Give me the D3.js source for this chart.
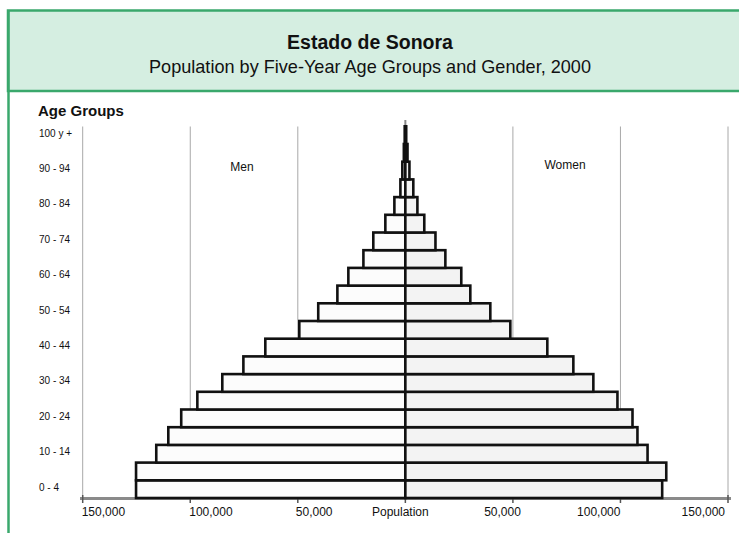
<!DOCTYPE html>
<html><head><meta charset="utf-8">
<script src="https://cdn.jsdelivr.net/npm/d3@7"></script>
<style>html,body{margin:0;padding:0;background:#fff;}svg{display:block;font-family:"Liberation Sans",Arial,sans-serif;}</style>
</head><body>
<svg id="c" width="739" height="533"></svg>
<script>
const ageGroups = ["0 - 4","5 - 9","10 - 14","15 - 19","20 - 24","25 - 29","30 - 34","35 - 39","40 - 44","45 - 49","50 - 54","55 - 59","60 - 64","65 - 69","70 - 74","75 - 79","80 - 84","85 - 89","90 - 94","95 - 99","100 y +"];
const shownAgeLabels = ["0 - 4","10 - 14","20 - 24","30 - 34","40 - 44","50 - 54","60 - 64","70 - 74","80 - 84","90 - 94","100 y +"];
const men   = [125200,125200,115800,110200,104200,96700,85100,75300,65100,49300,40500,31600,26500,19500,14900,9300,5100,2300,1400,700,300];
const women = [119400,121300,112600,107900,105600,98600,87400,78100,66000,48800,39500,30200,26000,18600,14000,8800,5600,3700,1900,1000,400];
const xTicks = [-150000,-100000,-50000,0,50000,100000,150000];
const xTickLabels = ["150,000","100,000","50,000","Population","50,000","100,000","150,000"];
const title = "Estado de Sonora";
const subtitle = "Population by Five-Year Age Groups and Gender, 2000";

const svg = d3.select("#c");
const green = "#3aa86c";

// header
svg.append("rect").attr("x",8).attr("y",10.5).attr("width",740).attr("height",80.5)
  .attr("fill","#d5eee1").attr("stroke",green).attr("stroke-width",2.5);
svg.append("line").attr("x1",8.5).attr("x2",8.5).attr("y1",10).attr("y2",533)
  .attr("stroke",green).attr("stroke-width",2.5);
svg.append("text").attr("x",370).attr("y",49).attr("text-anchor","middle")
  .attr("font-size",19.5).attr("font-weight","bold").attr("fill","#111").text(title);
svg.append("text").attr("x",370).attr("y",73).attr("text-anchor","middle")
  .attr("font-size",18.1).attr("fill","#111").text(subtitle);

const x = d3.scaleLinear().domain([-150000,150000]).range([82.7,728]);
const y = d3.scaleBand().domain(ageGroups).range([498,126.3]).padding(0);

// gridlines
svg.append("g").selectAll("line").data(xTicks.filter(d=>d!==0)).join("line")
  .attr("x1",d=>x(d)).attr("x2",d=>x(d)).attr("y1",126.5).attr("y2",498)
  .attr("stroke","#a8a8a8").attr("stroke-width",1);
svg.append("line").attr("x1",x(0)).attr("x2",x(0)).attr("y1",120).attr("y2",498)
  .attr("stroke","#888").attr("stroke-width",2);

// axis line
svg.append("line").attr("x1",80).attr("x2",731).attr("y1",498.5).attr("y2",498.5)
  .attr("stroke","#8a8a8a").attr("stroke-width",3);
svg.append("g").selectAll("line").data(xTicks).join("line")
  .attr("x1",d=>x(d)).attr("x2",d=>x(d)).attr("y1",495).attr("y2",503)
  .attr("stroke","#555").attr("stroke-width",1.5);

// bars
const bh = y.bandwidth();
svg.append("g").selectAll("rect").data(men).join("rect")
  .attr("x",d=>x(-d)).attr("width",d=>x(0)-x(-d))
  .attr("y",(d,i)=>y(ageGroups[i])).attr("height",bh)
  .attr("fill","#fcfcfc").attr("stroke","#111").attr("stroke-width",2.6);
svg.append("g").selectAll("rect").data(women).join("rect")
  .attr("x",x(0)).attr("width",d=>x(d)-x(0))
  .attr("y",(d,i)=>y(ageGroups[i])).attr("height",bh)
  .attr("fill","#f3f3f3").attr("stroke","#111").attr("stroke-width",2.6);

// x labels
const anchors = ["start","start","start","middle","end","end","end"];
const offs = [-1,-1,-2,-5,8,0,-3];
svg.append("g").selectAll("text").data(xTicks).join("text")
  .attr("x",(d,i)=>x(d)+offs[i]).attr("y",516).attr("text-anchor",(d,i)=>anchors[i])
  .attr("font-size",12).attr("fill","#111").text((d,i)=>xTickLabels[i]);

// y labels
svg.append("text").attr("x",38).attr("y",116).attr("font-size",15).attr("font-weight","bold")
  .attr("fill","#111").text("Age Groups");
svg.append("g").selectAll("text").data(shownAgeLabels).join("text")
  .attr("x",39).attr("y",d=>y(d)+y.bandwidth()/2+1.5).attr("font-size",10).attr("fill","#111").text(d=>d);

svg.append("text").attr("x",242).attr("y",171).attr("text-anchor","middle").attr("font-size",12).attr("fill","#111").text("Men");
svg.append("text").attr("x",565).attr("y",169).attr("text-anchor","middle").attr("font-size",12).attr("fill","#111").text("Women");
</script>
</body></html>
